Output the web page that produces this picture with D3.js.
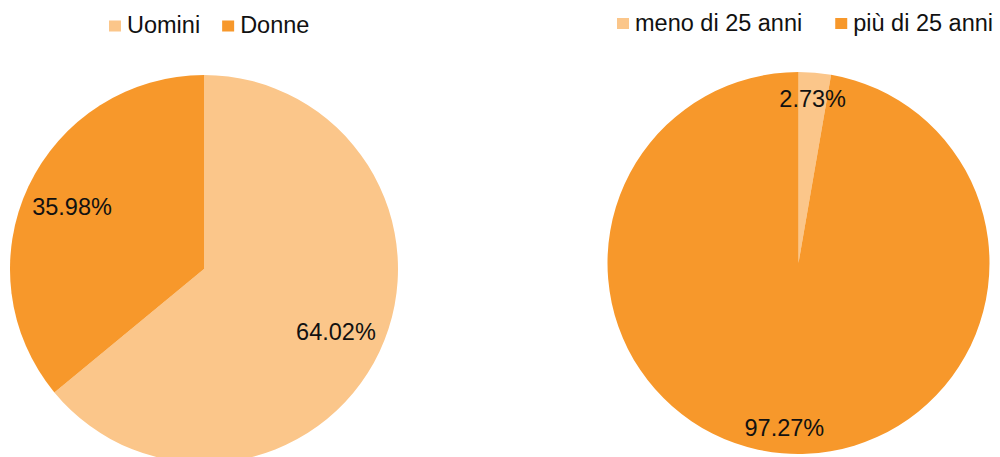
<!DOCTYPE html>
<html>
<head>
<meta charset="utf-8">
<script src="https://cdn.jsdelivr.net/npm/d3@7"></script>
<style>
  body { margin: 0; background: #fff; }
  text { font-family: "Liberation Sans", Arial, sans-serif; fill: #111; }
</style>
</head>
<body>
<div id="chart"></div>
<script>
// data
const genderLabels = ["Uomini", "Donne"];
const genderValues = [64.02, 35.98];
const ageLabels = ["meno di 25 anni", "più di 25 anni"];
const ageValues = [2.73, 97.27];
const colors = ["#fbc68a", "#f7982b"];

const svg = d3.select("#chart")
  .append("svg")
  .attr("width", 1000)
  .attr("height", 457);

function drawPie(labels, values, cfg) {
  const g = svg.append("g")
    .attr("transform", "translate(" + cfg.cx + "," + cfg.cy + ")");

  const pie = d3.pie().sort(null).value(d => d.value);
  const data = labels.map((l, i) => ({ label: l, value: values[i] }));
  const arcs = pie(data);

  const color = d3.scaleOrdinal().domain(labels).range(colors);
  const arc = d3.arc().innerRadius(0).outerRadius(cfg.r);
  const labelArc = d3.arc()
    .innerRadius(cfg.r * cfg.labelPos)
    .outerRadius(cfg.r * cfg.labelPos);

  g.selectAll("path")
    .data(arcs)
    .enter()
    .append("path")
    .attr("d", arc)
    .attr("fill", d => color(d.data.label));

  g.selectAll(".lbl")
    .data(arcs)
    .enter()
    .append("text")
    .attr("class", "lbl")
    .attr("transform", d => "translate(" + labelArc.centroid(d) + ")")
    .attr("text-anchor", "middle")
    .attr("dy", "0.36em")
    .style("font-size", "23.5px")
    .text(d => d.data.value.toFixed(2) + "%");

  // legend
  const leg = svg.append("g")
    .attr("transform", "translate(" + cfg.legX + "," + cfg.legY + ")");
  let x = 0;
  labels.forEach(l => {
    leg.append("rect")
      .attr("x", x)
      .attr("y", -12.5)
      .attr("width", 12)
      .attr("height", 11)
      .attr("fill", color(l));
    const t = leg.append("text")
      .attr("x", x + 18)
      .attr("y", 0)
      .style("font-size", "23.5px")
      .text(l);
    x += 18 + t.node().getComputedTextLength() + cfg.legGap;
  });
}

drawPie(genderLabels, genderValues,
  { cx: 204, cy: 269, r: 194, labelPos: 0.752, legX: 109, legY: 33, legGap: 22 });
drawPie(ageLabels, ageValues,
  { cx: 798.5, cy: 263, r: 191, labelPos: 0.866, legX: 617, legY: 30.5, legGap: 33 });
</script>
</body>
</html>
